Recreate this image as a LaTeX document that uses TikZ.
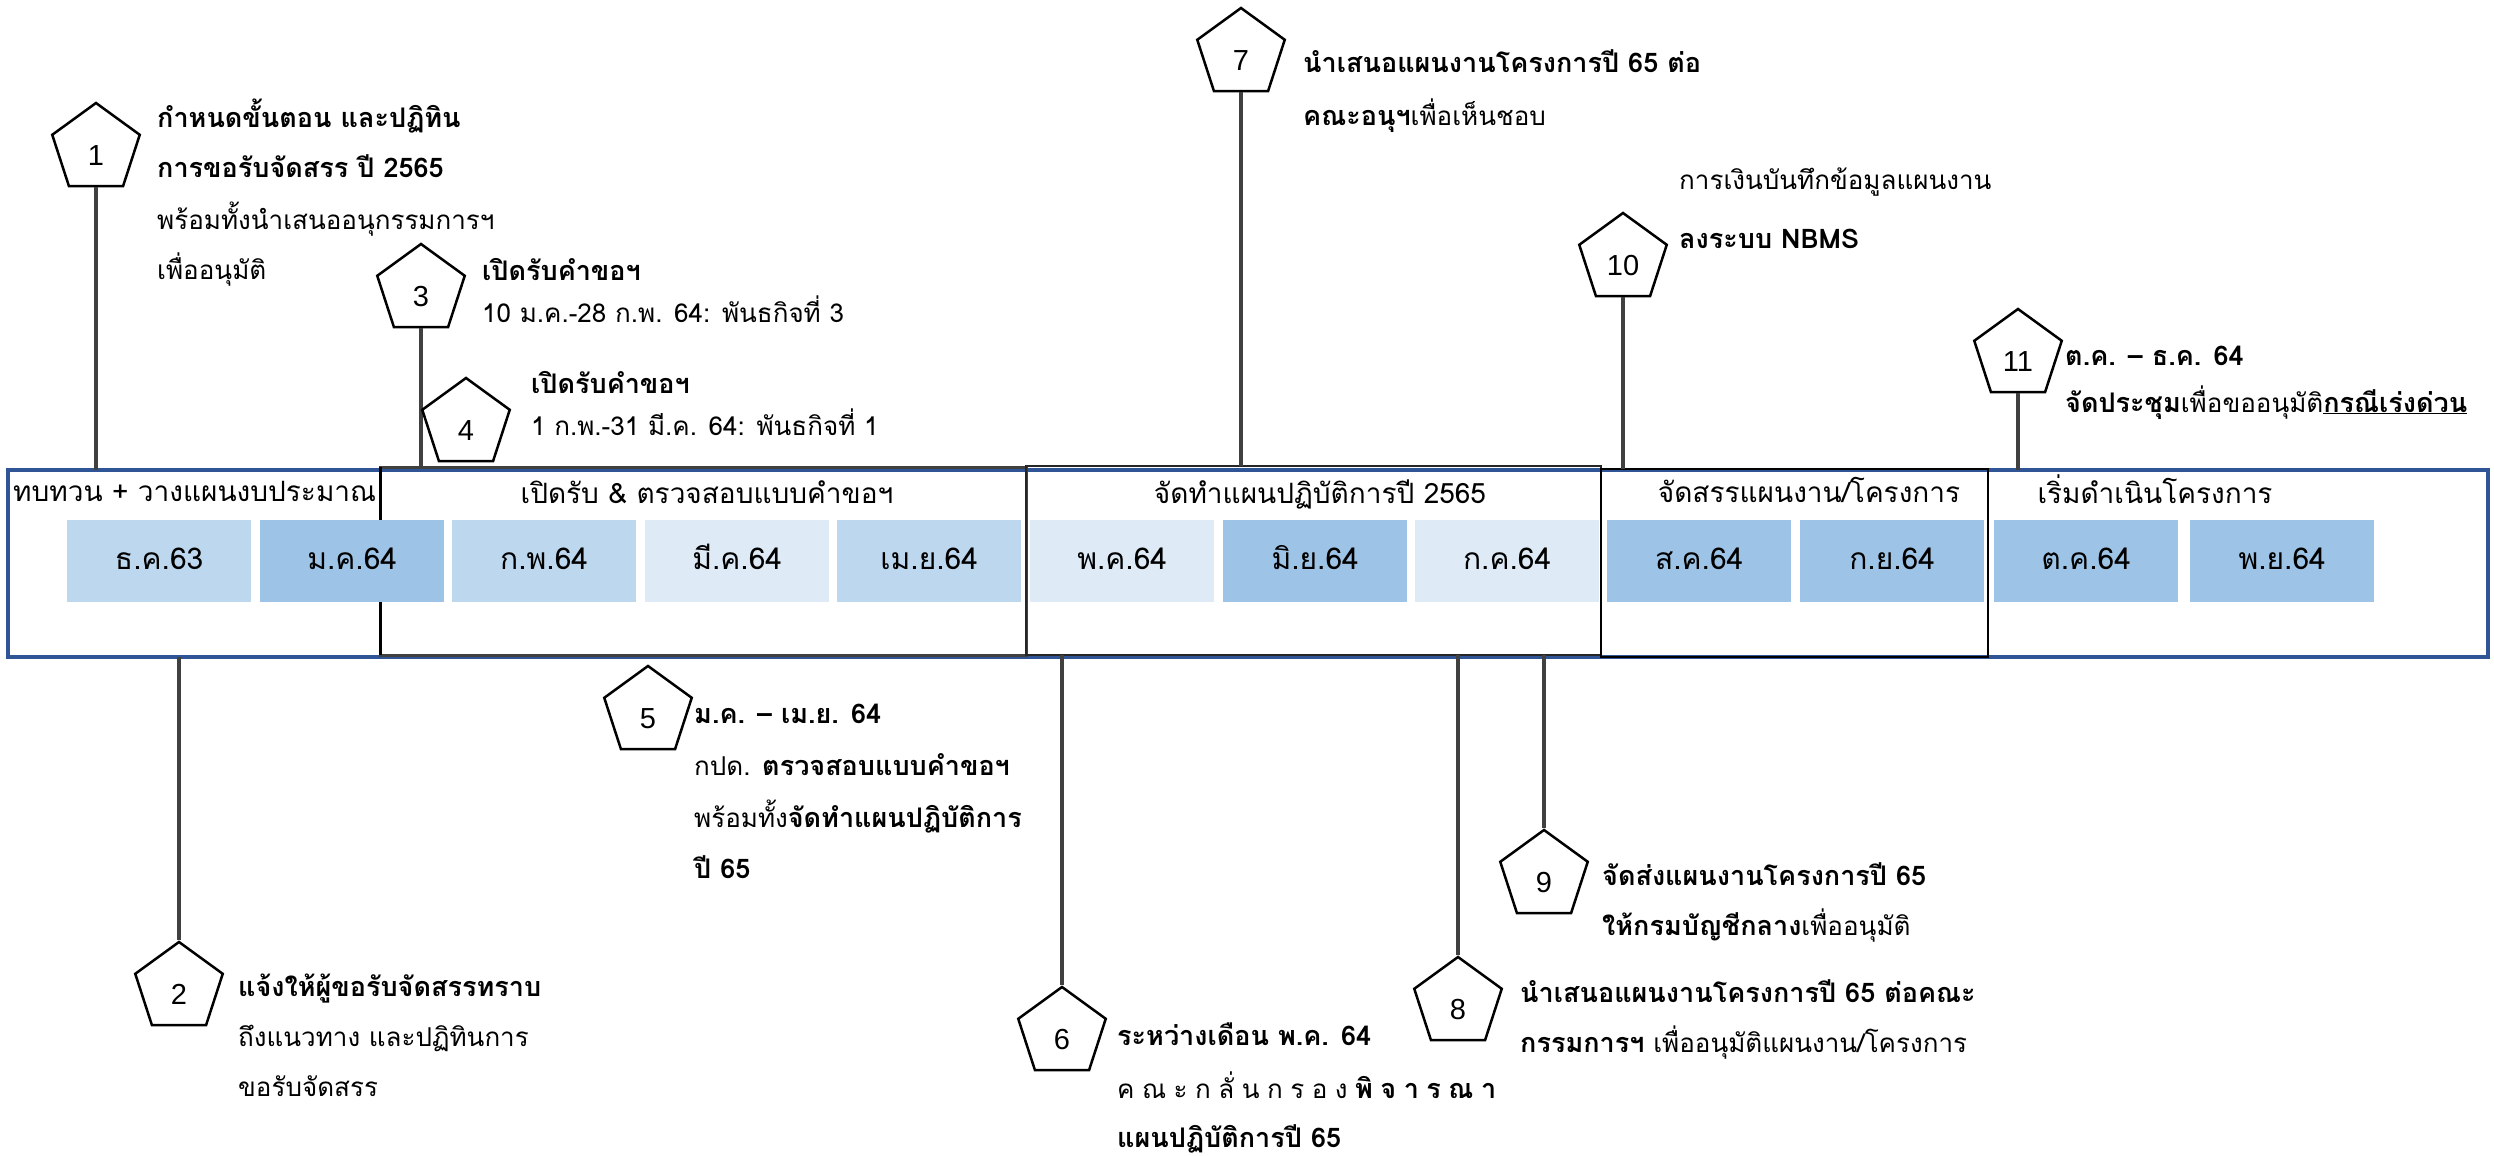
\documentclass[tikz,border=0pt]{standalone}
\usepackage{fontspec}
\usetikzlibrary{shapes.geometric}
\newfontfamily\thaifont[Script=Thai]{Loma}
\newfontfamily\numfont{Liberation Sans}
\newcommand\bd[1]{{\bfseries\fontsize{27}{30}\selectfont #1}}
\definecolor{bluebd}{HTML}{2F5597}
\definecolor{cellA}{HTML}{BDD7EE}
\definecolor{cellB}{HTML}{9DC3E6}
\definecolor{cellC}{HTML}{DEEBF7}
\definecolor{connc}{HTML}{404040}
\tikzset{
  penta/.style={regular polygon, regular polygon sides=5, minimum size=92pt, inner sep=0pt,
    draw=black, line width=2.5pt, fill=white, font=\numfont\fontsize{29}{29}\selectfont,
    text height=33pt, text depth=0pt},
  conn/.style={draw=connc, line width=4pt},
  body/.style={anchor=base west, inner sep=0pt, font=\thaifont\fontsize{26}{30}\selectfont},
  head/.style={anchor=base, inner sep=0pt, font=\thaifont\fontsize{28}{32}\selectfont},
  cell/.style={anchor=north west, minimum width=184pt, minimum height=82pt, inner sep=0pt,
    font=\thaifont\fontsize{30}{34}\selectfont, text height=21pt, text depth=5pt},
  frame/.style={anchor=north west, inner sep=0pt, outer sep=0pt},
}
\begin{document}
\begin{tikzpicture}[x=1pt,y=-1pt]
\fill[white] (0,0) rectangle (2494,1156);
\useasboundingbox (0,0) rectangle (2494,1156);
% frames
\node[frame, draw=bluebd, line width=4pt, minimum width=2480pt, minimum height=187pt] (outer) at (8,470) {};
\node[frame, draw=connc, line width=3pt, minimum width=646pt, minimum height=188pt] (boxB) at (380,467) {};
\draw[black, line width=3pt] (boxB.north west) -- (boxB.south west);
\node[frame, draw=black!85, line width=1.8pt, minimum width=575pt, minimum height=189pt] (boxC) at (1026,466) {};
\node[frame, draw=black, line width=2pt, minimum width=387pt, minimum height=188pt] (boxD) at (1601,469) {};
% headers
\node[head, anchor=base west] (hA) at (13,501) {ทบทวน + วางแผนงบประมาณ};
\node[head] (hB) at (707,503) {เปิดรับ \& ตรวจสอบแบบคำขอฯ};
\node[head] (hC) at (1320,503) {จัดทำแผนปฏิบัติการปี 2565};
\node[head] (hD) at (1809,502) {จัดสรรแผนงาน/โครงการ};
\node[head] (hE) at (2155,503) {เริ่มดำเนินโครงการ};
% month cells
\node[cell, fill=cellA] (m1) at (67,520) {ธ.ค.63};
\node[cell, fill=cellB] (m2) at (260,520) {ม.ค.64};
\node[cell, fill=cellA] (m3) at (452,520) {ก.พ.64};
\node[cell, fill=cellC] (m4) at (645,520) {มี.ค.64};
\node[cell, fill=cellA] (m5) at (837,520) {เม.ย.64};
\node[cell, fill=cellC] (m6) at (1030,520) {พ.ค.64};
\node[cell, fill=cellB] (m7) at (1223,520) {มิ.ย.64};
\node[cell, fill=cellC] (m8) at (1415,520) {ก.ค.64};
\node[cell, fill=cellB] (m9) at (1607,520) {ส.ค.64};
\node[cell, fill=cellB] (m10) at (1800,520) {ก.ย.64};
\node[cell, fill=cellB] (m11) at (1994,520) {ต.ค.64};
\node[cell, fill=cellB] (m12) at (2190,520) {พ.ย.64};
% pentagons
\node[penta] (p1) at (96,149) {1};
\node[penta] (p2) at (179,988) {2};
\node[penta] (p3) at (421,290) {3};
\node[penta] (p5) at (648,712) {5};
\node[penta] (p6) at (1062,1033) {6};
\node[penta] (p7) at (1241,54) {7};
\node[penta] (p8) at (1458,1003) {8};
\node[penta] (p9) at (1544,876) {9};
\node[penta] (p10) at (1623,259) {10};
\node[penta] (p11) at (2018,355) {11};
% connectors
\draw[conn] (p1.side 3) -- (p1.side 3 |- outer.north);
\draw[conn] (p2.corner 1 |- outer.south) -- (p2.corner 1);
\draw[conn] (p3.side 3) -- (p3.side 3 |- boxB.north);
\draw[conn] (p6.corner 1 |- boxC.south) -- (p6.corner 1);
\draw[conn] (p7.side 3) -- (p7.side 3 |- boxC.north);
\draw[conn] (p8.corner 1 |- boxC.south) -- (p8.corner 1);
\draw[conn] (p9.corner 1 |- boxC.south) -- (p9.corner 1);
\draw[conn] (p10.side 3) -- (p10.side 3 |- boxD.north);
\draw[conn] (p11.side 3) -- (p11.side 3 |- outer.north);
\node[penta] (p4) at (466,424) {4};
% texts
\node[body] (t1a) at (157,127) {\bd{กำหนดขั้นตอน และปฏิทิน}};
\node[body] (t1b) at (157,177) {\bd{การขอรับจัดสรร ปี 2565}};
\node[body] (t1c) at (157,229) {พร้อมทั้งนำเสนออนุกรรมการฯ};
\node[body] (t1d) at (157,279) {เพื่ออนุมัติ};
\node[body] (t2a) at (238,996) {\bd{แจ้งให้ผู้ขอรับจัดสรรทราบ}};
\node[body] (t2b) at (238,1046) {ถึงแนวทาง และปฏิทินการ};
\node[body] (t2c) at (238,1096) {ขอรับจัดสรร};
\node[body] (t3a) at (482,280) {\bd{เปิดรับคำขอฯ}};
\node[body] (t3b) at (482,322) {10 ม.ค.-28 ก.พ. 64: พันธกิจที่ 3};
\node[body] (t4a) at (531,393) {\bd{เปิดรับคำขอฯ}};
\node[body] (t4b) at (531,435) {1 ก.พ.-31 มี.ค. 64: พันธกิจที่ 1};
\node[body] (t5a) at (694,723) {\bd{ม.ค. – เม.ย. 64}};
\node[body] (t5b) at (694,775) {กปด. \bd{ตรวจสอบแบบคำขอฯ}};
\node[body] (t5c) at (694,827) {พร้อมทั้ง\bd{จัดทำแผนปฏิบัติการ}};
\node[body] (t5d) at (694,878) {\bd{ปี 65}};
\node[body] (t6a) at (1117,1045) {\bd{ระหว่างเดือน พ.ค. 64}};
\node[body] (t6b) at (1117,1098) {\hbox to 379pt{ค\hfill ณ\hfill ะ\hfill ก\hfill ลั่\hfill น\hfill ก\hfill ร\hfill อ\hfill ง\hfill \bd{พิ}\hfill \bd{จ}\hfill \bd{า}\hfill \bd{ร}\hfill \bd{ณ}\hfill \bd{า}}};
\node[body] (t6c) at (1117,1147) {\bd{แผนปฏิบัติการปี 65}};
\node[body] (t7a) at (1303,73) {\bd{นำเสนอแผนงานโครงการปี 65 ต่อ}};
\node[body] (t7b) at (1303,125) {\bd{คณะอนุฯ}เพื่อเห็นชอบ};
\node[body] (t8a) at (1520,1002) {\bd{นำเสนอแผนงานโครงการปี 65 ต่อคณะ}};
\node[body] (t8b) at (1520,1052) {\bd{กรรมการฯ} เพื่ออนุมัติแผนงาน/โครงการ};
\node[body] (t9a) at (1602,885) {\bd{จัดส่งแผนงานโครงการปี 65}};
\node[body] (t9b) at (1602,935) {\bd{ให้กรมบัญชีกลาง}เพื่ออนุมัติ};
\node[body] (t10a) at (1679,189) {การเงินบันทึกข้อมูลแผนงาน};
\node[body] (t10b) at (1679,248) {\bd{ลงระบบ NBMS}};
\node[body] (t11a) at (2065,365) {\bd{ต.ค. – ธ.ค. 64}};
\node[body] (t11b) at (2065,412) {\bd{จัดประชุม}เพื่อขออนุมัติ\underline{\bd{กรณีเร่งด่วน}}};
\end{tikzpicture}
\end{document}
